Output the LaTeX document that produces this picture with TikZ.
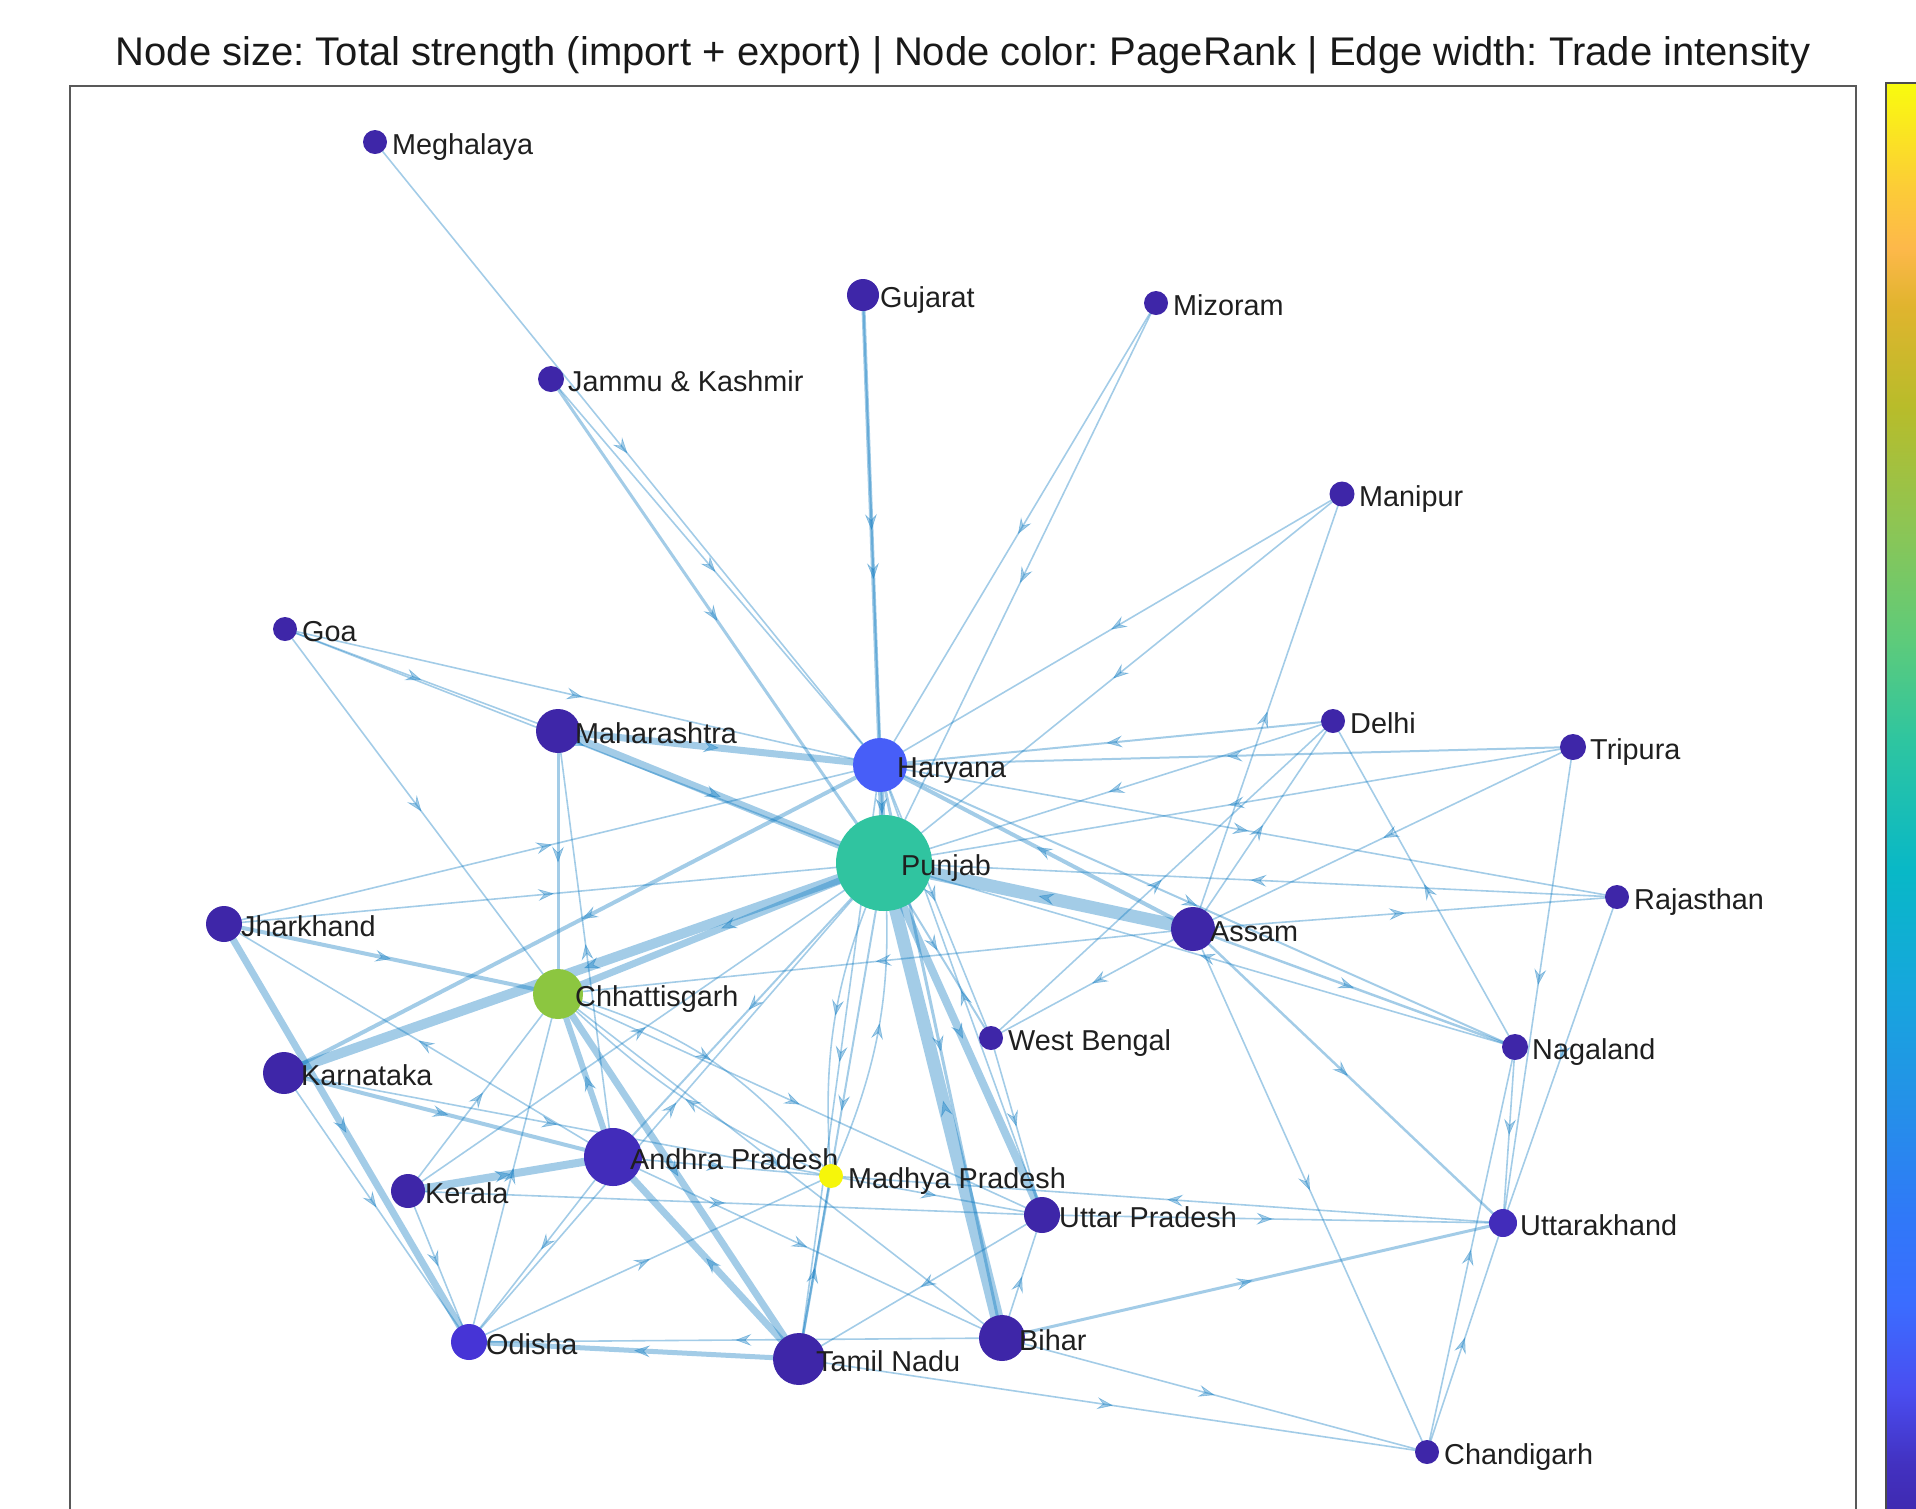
\documentclass[tikz,border=0pt]{standalone}
\usepackage{fontspec}
\setmainfont{Liberation Sans}
\frenchspacing
\usetikzlibrary{arrows.meta,decorations.markings}
\pgfdeclarelayer{background}
\pgfsetlayers{background,main}
\definecolor{eb}{RGB}{0,114,189}
\definecolor{pur}{RGB}{62,38,168}
\definecolor{pur2}{RGB}{66,44,186}
\definecolor{pur3}{RGB}{70,52,214}
\definecolor{hblue}{RGB}{71,94,248}
\definecolor{pteal}{RGB}{48,196,160}
\definecolor{cgreen}{RGB}{140,198,64}
\definecolor{myel}{RGB}{246,246,10}
\tikzset{
  ed/.style={draw=eb, opacity=0.36, line width=#1pt, postaction={decorate},
    decoration={markings, mark=at position 0.5 with {\arrow[line width=0.6pt]{Stealth[length=16pt,width=12pt,inset=6pt]}}}},
  st/.style={circle, inner sep=0pt, draw=none},
  lab/.style={anchor=base west, inner sep=0pt, font=\fontsize{28.8}{30}\selectfont, text=black!88},
}
\newcommand\nd[6]{\node[st, fill=#4, minimum size=#5pt] (#1) at (#2,#3) {};
  \node[lab] (#1-lab) at ({#2+17},{#3+12}) {#6};}
\newcommand\edg[3]{\draw[ed=#3] (#1.center) -- (#2.center);}
\begin{document}
\begin{tikzpicture}[x=1pt,y=-1pt]
\useasboundingbox (0,0) rectangle (1916,1508);
\clip (0,0) rectangle (1916,1508);
% title
\node[anchor=base, inner sep=0pt, font=\fontsize{40}{42}\selectfont, text=black!90] (title) at (963,65) {Node size: Total strength (import + export) | Node color: PageRank | Edge width: Trade intensity};
% colorbar
\def\cb#1#2#3#4{\shade[top color=#3, bottom color=#4] (1886,{60+#1*1448}) rectangle (1930,{60+#2*1448});}
\definecolor{c0}{HTML}{F9FB0E}
\definecolor{c1}{HTML}{FCCB38}
\definecolor{c2}{HTML}{FDB84A}
\definecolor{c3}{HTML}{E0B42E}
\definecolor{c4}{HTML}{B8BC2A}
\definecolor{c5}{HTML}{8EC553}
\definecolor{c6}{HTML}{5ECB7A}
\definecolor{c7}{HTML}{2EC5A0}
\definecolor{c8}{HTML}{08B8C7}
\definecolor{c9}{HTML}{16A7DC}
\definecolor{c10}{HTML}{2491E8}
\definecolor{c11}{HTML}{3078F8}
\definecolor{c12}{HTML}{3B6CFF}
\definecolor{c13}{HTML}{4A4DF0}
\definecolor{c14}{HTML}{4231C0}
\definecolor{c15}{HTML}{3E26A8}
\cb{0.016}{0.09}{c0}{c1}
\cb{0.09}{0.13}{c1}{c2}
\cb{0.13}{0.17}{c2}{c3}
\cb{0.17}{0.24}{c3}{c4}
\cb{0.24}{0.32}{c4}{c5}
\cb{0.32}{0.40}{c5}{c6}
\cb{0.40}{0.47}{c6}{c7}
\cb{0.47}{0.56}{c7}{c8}
\cb{0.56}{0.64}{c8}{c9}
\cb{0.64}{0.72}{c9}{c10}
\cb{0.72}{0.80}{c10}{c11}
\cb{0.80}{0.86}{c11}{c12}
\cb{0.86}{0.92}{c12}{c13}
\cb{0.92}{0.97}{c13}{c14}
\cb{0.97}{1.02}{c14}{c15}
\draw[line width=1.5pt, black!70] (1886,1530) -- (1886,83) -- (1930,83);
% axes box
\draw[line width=1.5pt, black!65] (70,1530) -- (70,86) -- (1856,86) -- (1856,1530);
% nodes
\nd{Meg}{375}{142}{pur}{24}{Meghalaya}
\nd{Guj}{863}{295}{pur}{32}{Gujarat}
\nd{Miz}{1156}{303}{pur}{24}{Mizoram}
\nd{JK}{551}{379}{pur}{26}{Jammu \& Kashmir}
\nd{Man}{1342}{494}{pur}{25}{Manipur}
\nd{Goa}{285}{629}{pur}{24}{Goa}
\nd{Mah}{558}{731}{pur}{44}{Maharashtra}
\nd{Del}{1333}{721}{pur}{24}{Delhi}
\nd{Tri}{1573}{747}{pur}{26}{Tripura}
\nd{Har}{880}{765}{hblue}{54}{Haryana}
\nd{Pun}{884}{863}{pteal}{96}{Punjab}
\nd{Raj}{1617}{897}{pur}{24}{Rajasthan}
\nd{Jha}{224}{924}{pur}{36}{Jharkhand}
\nd{Ass}{1193}{929}{pur}{44}{Assam}
\nd{Chh}{558}{994}{cgreen}{50}{Chhattisgarh}
\nd{WB}{991}{1038}{pur}{24}{West Bengal}
\nd{Nag}{1515}{1047}{pur}{26}{Nagaland}
\nd{Kar}{284}{1073}{pur}{42}{Karnataka}
\nd{AP}{613}{1157}{pur2}{58}{Andhra Pradesh}
\nd{MP}{831}{1176}{myel}{24}{Madhya Pradesh}
\nd{Ker}{408}{1191}{pur}{34}{Kerala}
\nd{UP}{1042}{1215}{pur}{36}{Uttar Pradesh}
\nd{Utk}{1503}{1223}{pur2}{28}{Uttarakhand}
\nd{Odi}{469}{1342}{pur3}{36}{Odisha}
\nd{TN}{799}{1359}{pur}{52}{Tamil Nadu}
\nd{Bih}{1002}{1338}{pur}{46}{Bihar}
\nd{Cha}{1427}{1452}{pur}{24}{Chandigarh}
% edges
\begin{pgfonlayer}{background}
\edg{Meg}{Har}{1.6}
\edg{JK}{Har}{1.6}
\edg{JK}{Pun}{3}
\edg{Guj}{Har}{4}
\edg{Guj}{Pun}{2}
\edg{Miz}{Har}{1.6}
\edg{Miz}{Pun}{1.6}
\edg{Man}{Har}{1.6}
\edg{Man}{Pun}{1.6}
\edg{Ass}{Man}{1.6}
\edg{Goa}{Mah}{1.6}
\edg{Goa}{Pun}{1.6}
\edg{Goa}{Har}{1.6}
\edg{Goa}{Chh}{1.6}
\edg{Mah}{Har}{7}
\edg{Mah}{Pun}{8}
\edg{Mah}{Chh}{3}
\edg{AP}{Mah}{1.6}
\edg{Del}{Har}{2}
\edg{Del}{Pun}{1.6}
\edg{Ass}{Del}{1.6}
\edg{WB}{Del}{1.6}
\edg{Nag}{Del}{1.6}
\edg{Tri}{Har}{2}
\edg{Tri}{Pun}{1.6}
\edg{Tri}{Ass}{1.6}
\edg{Tri}{Utk}{1.6}
\edg{Har}{Raj}{1.6}
\edg{Raj}{Pun}{1.6}
\edg{Ass}{Raj}{1.6}
\edg{Raj}{Utk}{1.6}
\edg{Ass}{Pun}{13}
\edg{Ass}{Har}{4}
\edg{Har}{Nag}{2}
\edg{Nag}{Pun}{1.6}
\edg{Ass}{Nag}{2.5}
\edg{Ass}{Utk}{2.5}
\edg{Ass}{Cha}{1.6}
\edg{Ass}{Chh}{1.6}
\edg{Ass}{WB}{1.6}
\edg{Nag}{Utk}{1.6}
\edg{Cha}{Utk}{1.6}
\edg{Cha}{Nag}{1.6}
\edg{Bih}{Utk}{3}
\edg{TN}{Cha}{1.6}
\edg{Bih}{Cha}{1.6}
\edg{UP}{Utk}{1.6}
\edg{Utk}{MP}{1.6}
\edg{Ker}{UP}{1.6}
\edg{Pun}{Kar}{10}
\edg{Har}{Kar}{4}
\edg{Pun}{Chh}{7}
\edg{Jha}{Pun}{1.6}
\edg{Jha}{Har}{1.6}
\edg{Jha}{Chh}{4}
\edg{Jha}{Odi}{7}
\edg{AP}{Jha}{1.6}
\edg{Kar}{Odi}{1.6}
\edg{Ker}{Odi}{1.6}
\edg{Kar}{AP}{4}
\edg{Ker}{AP}{8}
\edg{AP}{Chh}{6}
\edg{Chh}{TN}{7}
\edg{TN}{AP}{7}
\edg{TN}{Odi}{5}
\edg{Bih}{Odi}{1.6}
\edg{Bih}{Pun}{13}
\edg{Pun}{UP}{8}
\edg{WB}{UP}{1.6}
\edg{UP}{Har}{1.6}
\edg{Har}{Bih}{3}
\edg{TN}{MP}{2.5}
\edg{Bih}{UP}{1.6}
\edg{UP}{TN}{1.6}
\edg{MP}{UP}{1.6}
\edg{AP}{Bih}{1.6}
\edg{AP}{Odi}{1.6}
\edg{Odi}{Chh}{1.6}
\edg{Odi}{Pun}{1.6}
\edg{Odi}{MP}{1.6}
\edg{Ker}{Chh}{1.6}
\edg{Ker}{Pun}{1.6}
\edg{Pun}{WB}{2}
\edg{Har}{WB}{1.6}
\edg{Pun}{TN}{2}
\edg{Har}{TN}{1.6}
\edg{Pun}{AP}{2}
\edg{AP}{MP}{1.6}
\edg{Kar}{MP}{1.6}
\edg{Chh}{UP}{1.6}
\edg{Chh}{Bih}{1.6}
\edg{Har}{Pun}{6}
\draw[ed=1.6] (Pun.center) to[bend right=14] (MP.center);
\draw[ed=1.6] (MP.center) to[bend right=14] (Pun.center);
\draw[ed=1.6] (Chh.center) to[bend left=18] (MP.center);
\draw[ed=1.6] (MP.center) to[bend left=10] (Chh.center);
\end{pgfonlayer}
\end{tikzpicture}
\end{document}
